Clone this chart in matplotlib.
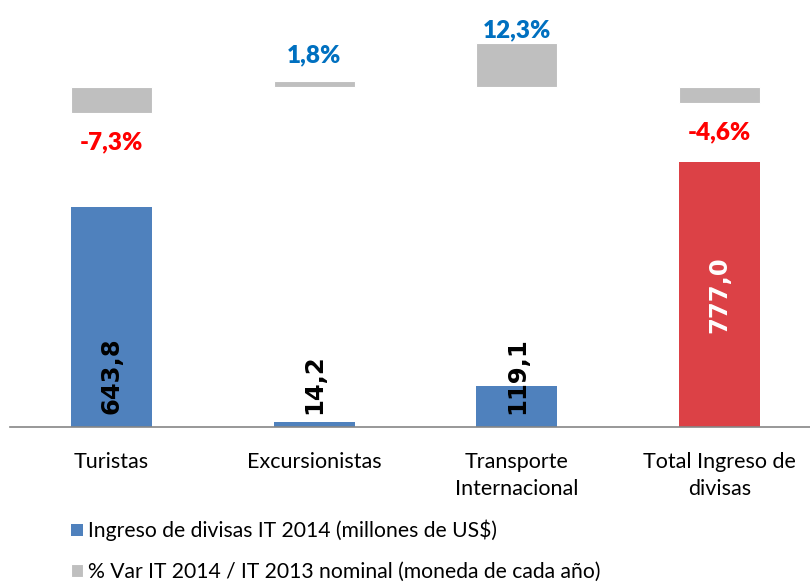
import matplotlib
matplotlib.use("Agg")
import matplotlib.pyplot as plt
import numpy as np

categories = ["Turistas", "Excursionistas", "Transporte\nInternacional", "Total Ingreso de\ndivisas"]
ingreso = [643.8, 14.2, 119.1, 777.0]
var_pct = [-7.3, 1.8, 12.3, -4.6]
ingreso_labels = ["643,8", "14,2", "119,1", "777,0"]
var_labels = ["-7,3%", "1,8%", "12,3%", "-4,6%"]
legend_labels = ["Ingreso de divisas IT 2014 (millones de US$)",
                 "% Var IT 2014 / IT 2013 nominal (moneda de cada año)"]

W, H = 810, 583
fig = plt.figure(figsize=(W/100, H/100), dpi=100)
left, right, top, bottom = 10, 821, 5, 427
ax = fig.add_axes([left/W, 1-bottom/H, (right-left)/W, (bottom-top)/H])
ax2 = ax.twinx()

x = np.arange(len(categories))
bar_colors = ["#4F81BD", "#4F81BD", "#4F81BD", "#DC4146"]
b1 = ax.bar(x, ingreso, width=0.4, color=bar_colors, zorder=2)
b2 = ax2.bar(x, var_pct, width=0.4, color="#BFBFBF", edgecolor="white", linewidth=0.8, zorder=2)

ppu1 = 0.341  # px per unit
ax.set_ylim(0, (bottom-top)/ppu1)
ppu2 = 3.58
zero2 = 87
ax2.set_ylim(-(bottom-zero2)/ppu2, (zero2-top)/ppu2)
ax.set_xlim(-0.5, len(categories)-0.5)

for a in (ax, ax2):
    for s in a.spines.values():
        s.set_visible(False)
    a.set_yticks([])
ax.spines["bottom"].set_visible(True)
ax.spines["bottom"].set_color("#868686")
ax.spines["bottom"].set_linewidth(1.2)
ax.set_xticks(x)
ax.set_xticklabels(categories, fontsize=15.5, family="Lato", color="#000000", linespacing=1.45)
ax.tick_params(axis="x", length=0, pad=18)

# value labels inside bars
for i, (v, lab) in enumerate(zip(ingreso, ingreso_labels)):
    if i == 3:
        ax.text(x[i], v/2, lab, rotation=90, ha="center", va="center",
                fontsize=17.5, fontweight="bold", color="white", family="DejaVu Sans", zorder=3)
    else:
        ax.text(x[i], 13/ppu1, lab, rotation=90, ha="center", va="bottom",
                fontsize=17.5, fontweight="bold", color="black", family="DejaVu Sans", zorder=3)

offsets = [-29, 25, 13, -29]
for i, (v, lab) in enumerate(zip(var_pct, var_labels)):
    col = "#FF0000" if v < 0 else "#0070C0"
    ax2.annotate(lab, (x[i], v), xytext=(0, offsets[i]*0.72), textcoords="offset points",
                 ha="center", va="center", fontsize=17.5, fontweight="heavy", color=col, family="Lato")

handles = [b1.patches[0], b2.patches[0]]
leg = fig.legend(handles, legend_labels, loc="upper left", bbox_to_anchor=(54/W, 1-503/H),
                 frameon=False, prop={"family": "Lato", "size": 15.2}, handlelength=0.55,
                 handleheight=0.55, handletextpad=0.25, labelspacing=0.98, borderpad=0.3)

fig.savefig("out.png", dpi=100)
